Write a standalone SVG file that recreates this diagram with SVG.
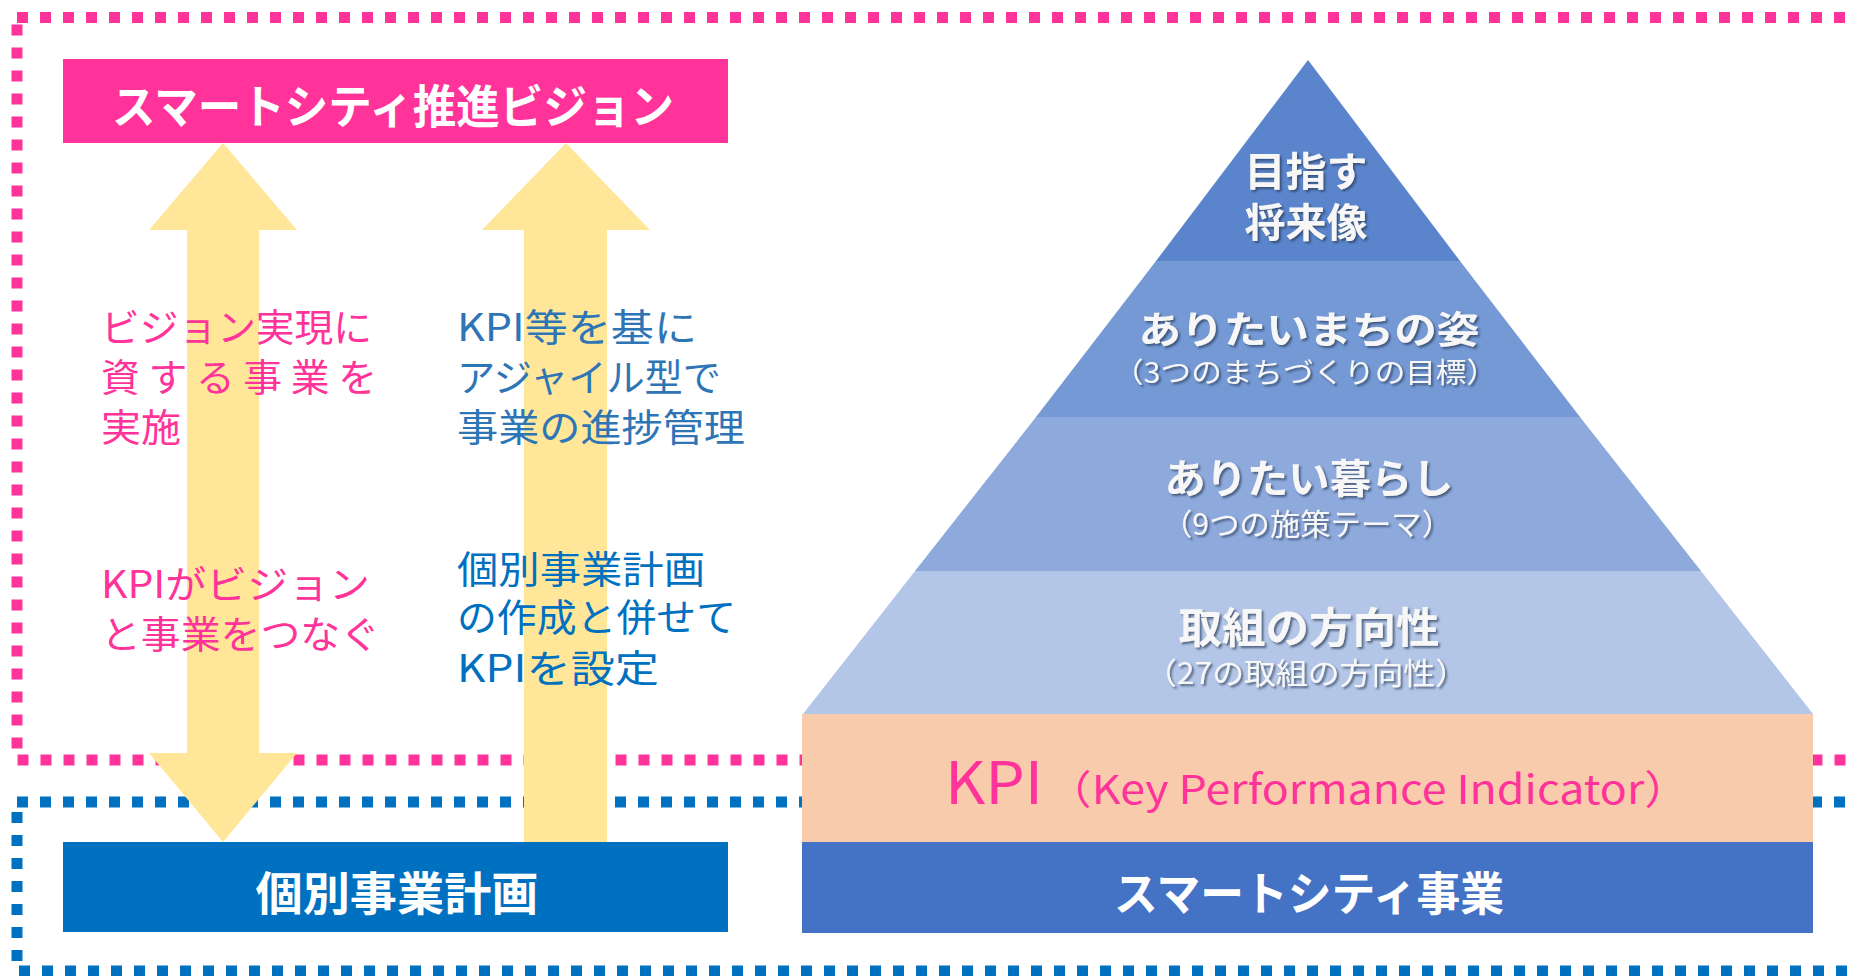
<svg xmlns="http://www.w3.org/2000/svg" width="1851" height="976" viewBox="0 0 1851 976">
<defs>
<style>
.jp{font-family:"Noto Sans CJK JP","Noto Sans CJK SC",sans-serif;}
.title{font-size:46px;font-weight:bold;fill:#ffffff;text-anchor:middle;}
.pyr{font-weight:bold;fill:#f7f7f7;text-anchor:middle;filter:url(#sh);}
.sub{font-weight:normal;}
.pk{font-size:38px;fill:#ff3399;}
.bl{font-size:38px;fill:#2e75b6;}
.bl2{font-size:38px;fill:#0070c0;}
.arrow{fill:#ffe699;}
</style>
<filter id="sh" x="-10%" y="-20%" width="120%" height="150%">
<feDropShadow dx="2" dy="2" stdDeviation="1.2" flood-color="#2a3a5a" flood-opacity="0.7"/>
</filter>
</defs>
<rect width="1851" height="976" fill="#ffffff"/>

<g id="borders">
<rect x="17" y="17.5" width="1900" height="742.5" fill="none" stroke="#ff3399" stroke-width="11" stroke-dasharray="11 12"/>
<rect x="17" y="802" width="1900" height="169" fill="none" stroke="#0070c0" stroke-width="11" stroke-dasharray="11 12"/>
</g>

<g id="connectors">
<polygon class="arrow" points="223,143 297,230 259,230 259,753 297,753 223,842 149,753 187,753 187,230 149,230"/>
<polygon class="arrow" points="566,143 650,230 607,230 607,842 524,842 524,230 482,230"/>
</g>

<g id="vision">
<rect x="63" y="59" width="665" height="84" fill="#ff3399"/>
<text class="jp title" x="393" y="123" textLength="562" lengthAdjust="spacingAndGlyphs">スマートシティ推進ビジョン</text>
</g>

<g id="plan">
<rect x="63" y="842" width="665" height="90" fill="#0070c0"/>
<text class="jp title" x="397" y="910" font-size="48" textLength="283" lengthAdjust="spacingAndGlyphs">個別事業計画</text>
</g>

<g id="label-left-1">
<text class="jp pk" x="101" y="341" textLength="271" lengthAdjust="spacingAndGlyphs">ビジョン実現に</text>
<text class="jp pk" x="101" y="391" textLength="276" lengthAdjust="spacingAndGlyphs">資 す る 事 業 を</text>
<text class="jp pk" x="101" y="441" textLength="80" lengthAdjust="spacingAndGlyphs">実施</text>
</g>
<g id="label-left-2">
<text class="jp pk" x="101" y="598" textLength="269" lengthAdjust="spacingAndGlyphs">KPIがビジョン</text>
<text class="jp pk" x="101" y="648" textLength="279" lengthAdjust="spacingAndGlyphs">と事業をつなぐ</text>
</g>
<g id="label-right-1">
<text class="jp bl" x="457" y="341" textLength="240" lengthAdjust="spacingAndGlyphs">KPI等を基に</text>
<text class="jp bl" x="457" y="391" textLength="264" lengthAdjust="spacingAndGlyphs">アジャイル型で</text>
<text class="jp bl" x="457" y="441" textLength="288" lengthAdjust="spacingAndGlyphs">事業の進捗管理</text>
</g>
<g id="label-right-2">
<text class="jp bl2" x="457" y="583" textLength="248" lengthAdjust="spacingAndGlyphs">個別事業計画</text>
<text class="jp bl2" x="457" y="631" textLength="279" lengthAdjust="spacingAndGlyphs">の作成と併せて</text>
<text class="jp bl2" x="457" y="682" textLength="202" lengthAdjust="spacingAndGlyphs">KPIを設定</text>
</g>

<g id="pyramid-1">
<polygon points="1308,60 1460,261 1156,261" fill="#5a85cc"/>
<text class="jp pyr" x="1306" y="186" font-size="40" textLength="123" lengthAdjust="spacingAndGlyphs">目指す</text>
<text class="jp pyr" x="1306" y="237" font-size="40" textLength="123" lengthAdjust="spacingAndGlyphs">将来像</text>
</g>
<g id="pyramid-2">
<polygon points="1156,261 1460,261 1580,417 1036,417" fill="#7499d4"/>
<text class="jp pyr" x="1309" y="343" font-size="38" textLength="341" lengthAdjust="spacingAndGlyphs">ありたいまちの姿</text>
<text class="jp pyr sub" x="1305" y="383" font-size="28" textLength="384" lengthAdjust="spacingAndGlyphs">（3つのまちづくりの目標）</text>
</g>
<g id="pyramid-3">
<polygon points="1036,417 1580,417 1701,571 915,571" fill="#8eaadc"/>
<text class="jp pyr" x="1309" y="493" font-size="40" textLength="289" lengthAdjust="spacingAndGlyphs">ありたい暮らし</text>
<text class="jp pyr sub" x="1307" y="535" font-size="30" textLength="290" lengthAdjust="spacingAndGlyphs">（9つの施策テーマ）</text>
</g>
<g id="pyramid-4">
<polygon points="915,571 1701,571 1813,714 803,714" fill="#b4c6e7"/>
<text class="jp pyr" x="1309" y="643" font-size="42" textLength="261" lengthAdjust="spacingAndGlyphs">取組の方向性</text>
<text class="jp pyr sub" x="1306" y="684" font-size="30" textLength="322" lengthAdjust="spacingAndGlyphs">（27の取組の方向性）</text>
</g>
<g id="kpi">
<rect x="802" y="714" width="1011" height="128" fill="#f8cbad"/>
<text class="jp" x="945" y="804" font-size="58" fill="#ff3399" textLength="98" lengthAdjust="spacingAndGlyphs">KPI</text>
<text class="jp" x="1047" y="804" font-size="40" fill="#ff3399" textLength="642" lengthAdjust="spacingAndGlyphs">（Key Performance Indicator）</text>
</g>
<g id="smartcity">
<rect x="802" y="842" width="1011" height="91" fill="#4472c4"/>
<text class="jp title" x="1309" y="910" textLength="390" lengthAdjust="spacingAndGlyphs">スマートシティ事業</text>
</g>
</svg>
